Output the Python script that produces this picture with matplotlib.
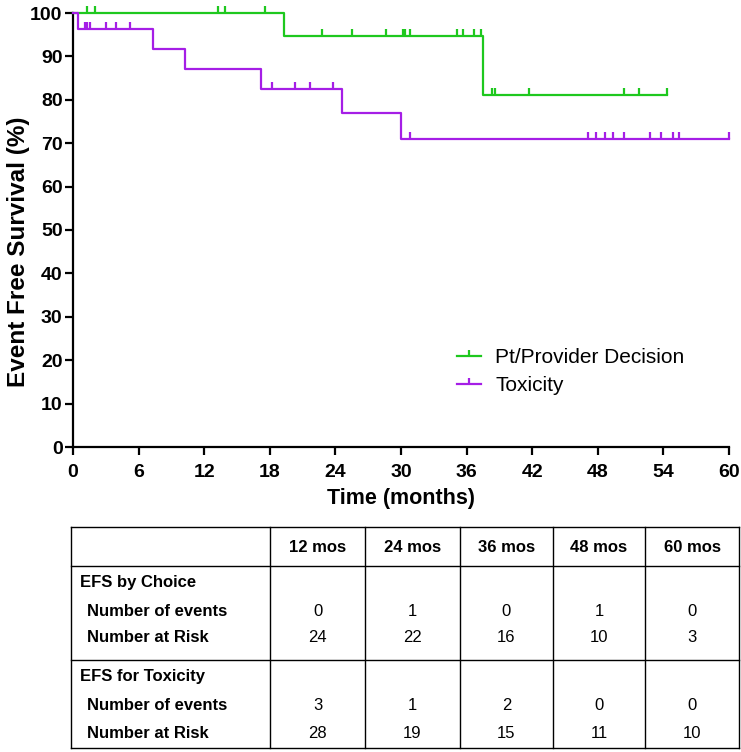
import matplotlib.pyplot as plt
from matplotlib.path import Path
from matplotlib.lines import Line2D

# Kaplan-Meier step data (months, % event free)
choice_t = [0, 19.3, 37.5, 54.3]
choice_s = [100, 94.7, 81.2, 81.2]
choice_cens_t = [1.3, 2.0, 13.3, 13.9, 17.6,
                 22.8, 25.5, 28.6, 30.2, 30.4, 30.8, 35.1, 35.7, 36.7, 37.3,
                 38.3, 38.6, 41.7, 50.4, 51.8, 54.3]

tox_t = [0, 0.5, 7.3, 10.2, 17.2, 24.6, 30.0, 60]
tox_s = [100, 96.4, 91.8, 87.2, 82.6, 76.9, 70.9, 70.9]
tox_cens_t = [1.1, 1.3, 1.6, 3.0, 3.9, 5.2,
              18.2, 20.3, 21.7, 23.8,
              30.8, 47.1, 47.8, 48.7, 49.4, 50.4, 52.8, 53.8, 54.9, 55.4, 60]

green = '#1ec81e'
purple = '#a51ee6'

# table contents
col_labels = ['12 mos', '24 mos', '36 mos', '48 mos', '60 mos']
choice_events = [0, 1, 0, 1, 0]
choice_risk = [24, 22, 16, 10, 3]
tox_events = [3, 1, 2, 0, 0]
tox_risk = [28, 19, 15, 11, 10]


def surv_at(times, surv, t):
    s = surv[0]
    for ti, si in zip(times, surv):
        if ti <= t:
            s = si
    return s


tick_mark = Path([(0, 0), (0, 1)], [Path.MOVETO, Path.LINETO])
narrow = ['Liberation Sans Narrow', 'Liberation Sans']

fig = plt.figure(figsize=(7.41, 7.52), dpi=100)
W, H = 741, 752
ax = fig.add_axes([73 / W, (H - 447) / H, (729 - 73) / W, (447 - 13) / H])

ax.step(choice_t, choice_s, where='post', color=green, lw=1.6, clip_on=False, zorder=3)
ax.plot(choice_cens_t, [surv_at(choice_t, choice_s, t) for t in choice_cens_t],
        ls='none', marker=tick_mark, ms=10, mew=1.6, color=green, clip_on=False, zorder=3)
ax.step(tox_t, tox_s, where='post', color=purple, lw=1.6, clip_on=False, zorder=3)
ax.plot(tox_cens_t, [surv_at(tox_t, tox_s, t) for t in tox_cens_t],
        ls='none', marker=tick_mark, ms=10, mew=1.6, color=purple, clip_on=False, zorder=3)

ax.set_xlim(0, 60)
ax.set_ylim(0, 100)
ax.set_xticks(range(0, 61, 6))
ax.set_yticks(range(0, 101, 10))
for s in ['top', 'right']:
    ax.spines[s].set_visible(False)
for s in ['left', 'bottom']:
    ax.spines[s].set_linewidth(1.6)
ax.tick_params(width=1.6, length=6, labelsize=14)
ax.tick_params(axis='x', pad=6)
ax.tick_params(axis='y', pad=1.5)
for lab in ax.get_xticklabels() + ax.get_yticklabels():
    lab.set_fontweight('bold')
    lab.set_family('Liberation Sans')

ax.set_xlabel('Time (months)', fontsize=15.5, fontweight='bold', family='Liberation Sans', labelpad=5)
ax.set_ylabel('Event Free Survival (%)', fontsize=17.5, fontweight='bold', family='Liberation Sans')
ax.yaxis.set_label_coords(-0.065, 0.45)

handles = []
for c in [green, purple]:
    ln = Line2D([], [], color=c, lw=1.6)
    mk = Line2D([], [], color=c, ls='none', marker=tick_mark, ms=8, mew=1.6)
    handles.append((ln, mk))
leg = ax.legend(handles, ['Pt/Provider Decision', 'Toxicity'], loc='upper left',
                bbox_to_anchor=(0.585, 0.228), frameon=False, handlelength=1.15,
                handletextpad=0.7, labelspacing=0.45, numpoints=1,
                borderaxespad=0, borderpad=0,
                prop={'family': 'Liberation Sans', 'size': 15})

# table drawn in pixel coordinates
tab = fig.add_axes([0, 0, 1, 1])
tab.set_xlim(0, W)
tab.set_ylim(H, 0)
tab.axis('off')

xs = [71, 270, 365, 460, 553, 645, 739]
left, right = xs[0], xs[-1]
top, hdr, mid, bot = 527, 566, 660, 748
for y in [top, hdr, mid, bot]:
    tab.plot([left, right], [y, y], color='black', lw=1.0)
for x in xs:
    tab.plot([x, x], [top, bot], color='black', lw=1.0)

centers = [(xs[i + 1] + xs[i + 2]) / 2 for i in range(5)]
for c, lab in zip(centers, col_labels):
    tab.text(c, 547, lab, ha='center', va='center', fontsize=12, fontweight='bold', family=narrow)

row_labels = [('EFS by Choice', 583, 9), ('Number of events', 611, 16), ('Number at Risk', 638, 16),
              ('EFS for Toxicity', 677, 9), ('Number of events', 706, 16), ('Number at Risk', 734, 16)]
for txt, y, dx in row_labels:
    tab.text(left + dx, y, txt, va='center', fontsize=12, fontweight='bold', family=narrow)

for row_y, vals in [(611, choice_events), (638, choice_risk), (706, tox_events), (734, tox_risk)]:
    for c, v in zip(centers, vals):
        tab.text(c, row_y, str(v), ha='center', va='center', fontsize=12, family=narrow)

fig.savefig('out.png', dpi=100)
